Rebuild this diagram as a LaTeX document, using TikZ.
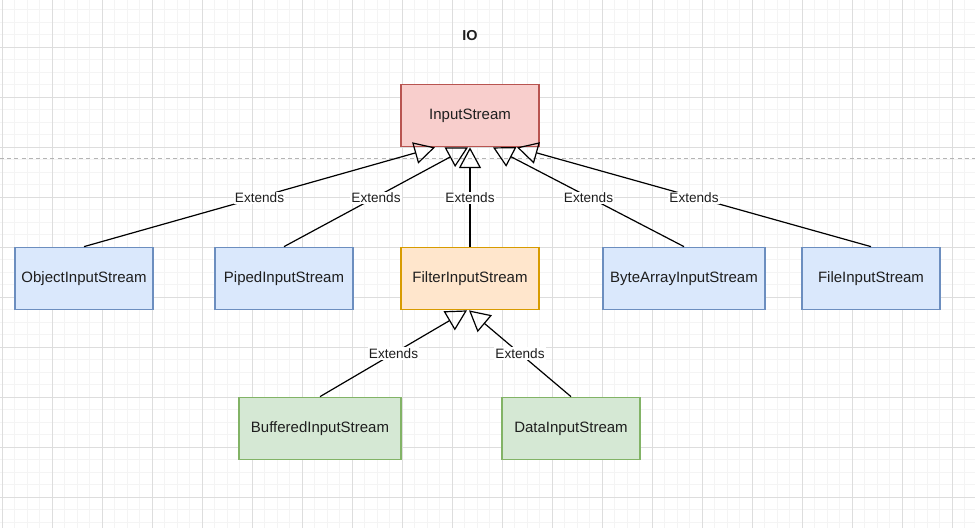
\documentclass[tikz,border=0pt]{standalone}
\usepackage{fontspec}
\setmainfont{Liberation Sans}
\usetikzlibrary{arrows.meta,calc}

\definecolor{gridminor}{HTML}{F4F4F4}
\definecolor{gridmajor}{HTML}{DDDDDD}
\definecolor{sepline}{HTML}{B4B4B4}
\definecolor{redfill}{HTML}{F8CECC}
\definecolor{redline}{HTML}{B85450}
\definecolor{bluefill}{HTML}{DAE8FC}
\definecolor{blueline}{HTML}{6C8EBF}
\definecolor{orangefill}{HTML}{FFE6CC}
\definecolor{orangeline}{HTML}{D79B00}
\definecolor{greenfill}{HTML}{D5E8D4}
\definecolor{greenline}{HTML}{82B366}
\definecolor{textcol}{HTML}{1E1E1E}

\begin{document}
\begin{tikzpicture}[x=0.75pt,y=-0.75pt,
  classbox/.style={draw, line width=0.9pt, minimum width=103.5pt,
    minimum height=46.9pt, inner sep=0pt, text=textcol,
    font=\fontsize{11.25}{13}\selectfont},
  widebox/.style={classbox, minimum width=121.5pt},
  rootbox/.style={classbox, fill=redfill, draw=redline},
  leafbox/.style={fill=bluefill, draw=blueline},
  filterbox/.style={fill=orangefill, draw=orangeline},
  subbox/.style={fill=greenfill, draw=greenline},
  extends/.style={draw, line width=0.9pt,
    -{Triangle[open, length=15.5pt, width=16.5pt]}},
  extlabel/.style={fill=white, inner sep=1pt, text=textcol,
    font=\fontsize{10.2}{12}\selectfont},
  minorgrid/.style={draw=gridminor, line width=0.75pt},
  majorgrid/.style={draw=gridmajor, line width=0.75pt}
]
\useasboundingbox (0,0) rectangle (975,528);

% background grid
\foreach \i in {0,...,78}
  \draw[minorgrid] ({2.3+12.5*\i},0) -- ({2.3+12.5*\i},528);
\foreach \j in {0,...,41}
  \draw[minorgrid] (0,{9.8+12.5*\j}) -- (975,{9.8+12.5*\j});
\foreach \i in {0,...,19}
  \draw[majorgrid] ({2.3+50*\i},0) -- ({2.3+50*\i},528);
\foreach \j in {0,...,9}
  \draw[majorgrid] (0,{47.3+50*\j}) -- (975,{47.3+50*\j});

% separator
\coordinate (sepL) at (0,158.5);
\coordinate (sepR) at (975,158.5);
\draw[sepline, line width=0.75pt, dash pattern=on 3pt off 2.4pt] (sepL) -- (sepR);

% title
\node[font=\bfseries\fontsize{10.8}{13}\selectfont, text=textcol] (title) at (470,35.5) {IO};

% classes
\node[rootbox] (in) at (470,115.5) {InputStream};
\node[classbox, leafbox] (obj) at (84,278.5) {ObjectInputStream};
\node[classbox, leafbox] (pip) at (284,278.5) {PipedInputStream};
\node[classbox, filterbox] (fil) at (470,278.5) {FilterInputStream};
\node[widebox, leafbox] (bya) at (684,278.5) {ByteArrayInputStream};
\node[classbox, leafbox] (fis) at (871,278.5) {FileInputStream};
\node[widebox, subbox] (buf) at (320,428.5) {BufferedInputStream};
\node[classbox, subbox] (dat) at (571,428.5) {DataInputStream};

% attachment points on the parents
\coordinate (inA) at ($(in.south)+(-35,0)$);
\coordinate (inB) at ($(in.south)+(-2,0)$);
\coordinate (inC) at (in.south);
\coordinate (inD) at ($(in.south)+(23,0)$);
\coordinate (inE) at ($(in.south)+(47,0)$);
\coordinate (filA) at ($(fil.south)+(-3,0)$);
\coordinate (filB) at ($(fil.south)+(-1,0)$);

% inheritance
\draw[extends] (obj.north) -- node[extlabel, yshift=-0.75pt] {Extends} (inA);
\draw[extends] (pip.north) -- node[extlabel, yshift=-0.75pt] {Extends} (inB);
\draw[extends] (fil.north) -- node[extlabel, yshift=-0.75pt] {Extends} (inC);
\draw[extends] (bya.north) -- node[extlabel, yshift=-0.75pt] {Extends} (inD);
\draw[extends] (fis.north) -- node[extlabel, yshift=-0.75pt] {Extends} (inE);
\draw[extends] (buf.north) -- node[extlabel] {Extends} (filA);
\draw[extends] (dat.north) -- node[extlabel] {Extends} (filB);
\end{tikzpicture}
\end{document}
